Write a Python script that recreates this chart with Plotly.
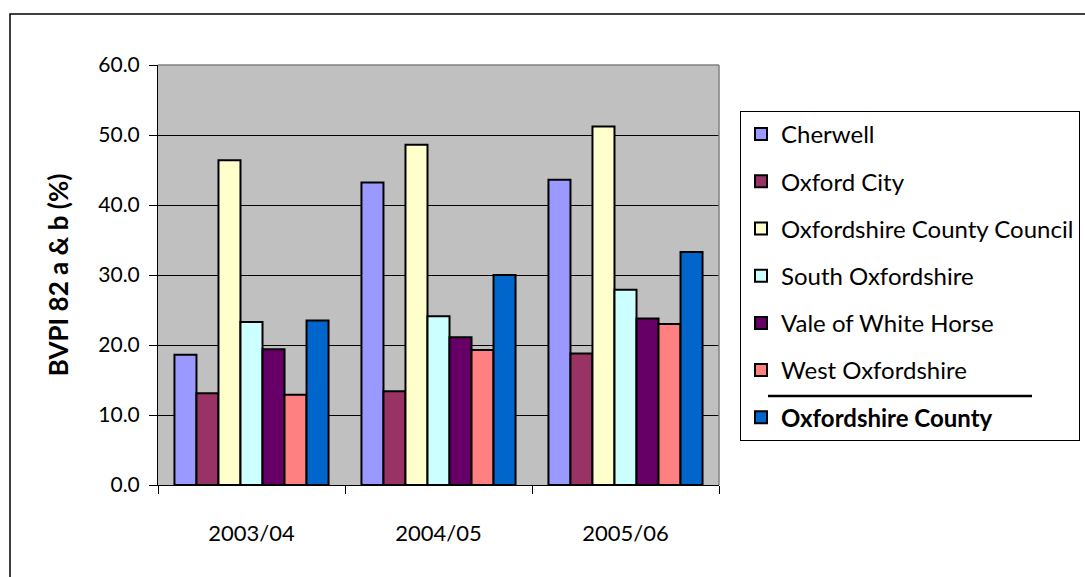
import plotly.graph_objects as go

years = ["2003/04", "2004/05", "2005/06"]
series_names = ["Cherwell", "Oxford City", "Oxfordshire County Council",
                "South Oxfordshire", "Vale of White Horse", "West Oxfordshire",
                "Oxfordshire County"]
cherwell = [18.6, 43.2, 43.6]
oxford_city = [13.1, 13.4, 18.8]
occ = [46.4, 48.6, 51.2]
south_oxon = [23.3, 24.1, 27.9]
vale = [19.4, 21.1, 23.8]
west_oxon = [12.9, 19.3, 23.0]
county = [23.5, 30.0, 33.3]
y_ticks = [0, 10, 20, 30, 40, 50, 60]

values = [cherwell, oxford_city, occ, south_oxon, vale, west_oxon, county]
colors = ["#9999FF", "#993366", "#FFFFCC", "#CCFFFF", "#660066", "#FF8080", "#0066CC"]

FONT = "Lato, 'Open Sans', sans-serif"

fig = go.Figure()
for i, (name, vals, col) in enumerate(zip(series_names, values, colors)):
    label = f"<b>{name}</b>" if name == "Oxfordshire County" else name
    fig.add_trace(go.Bar(
        x=years, y=vals, name=label, legendgroup=f"g{i}",
        marker=dict(color=col, line=dict(color="black", width=2)),
    ))

W, H = 1085, 577
L, R, T, B = 158, 366, 65, 92
pw, ph = W - L - R, H - T - B

def px(x):
    return (x - L) / pw

def py(y):
    return (H - B - y) / ph

fig.update_layout(
    width=W, height=H,
    margin=dict(l=L, r=R, t=T, b=B, autoexpand=False),
    paper_bgcolor="white", plot_bgcolor="#C0C0C0",
    barmode="group", bargap=0.176, bargroupgap=0,
    font=dict(family=FONT, size=21, color="black"),
    legend=dict(
        x=px(740), y=py(111), xanchor="left", yanchor="top",
        bordercolor="black", borderwidth=1, bgcolor="rgba(0,0,0,0)",
        font=dict(family=FONT, size=24, color="black"),
        tracegroupgap=13, itemwidth=30,
    ),
    xaxis=dict(
        showline=True, linecolor="black", linewidth=1,
        ticks="outside", ticklen=8, tickcolor="black", tickson="boundaries",
        tickfont=dict(size=22), showgrid=False, ticklabelstandoff=29,
    ),
    yaxis=dict(
        range=[0, 60], tickvals=y_ticks, tickformat=".1f",
        showline=True, linecolor="black", linewidth=1,
        ticks="outside", ticklen=8, tickcolor="black",
        gridcolor="black", gridwidth=1, tickfont=dict(size=21),
        ticklabelstandoff=5,
        title=dict(text="<b>BVPI 82 a & b (%)</b>", font=dict(size=26), standoff=22),
        zeroline=False,
    ),
    shapes=[
        # outer chart border
        dict(type="rect", xref="paper", yref="paper",
             x0=px(10), x1=px(1200), y0=py(700), y1=py(14),
             line=dict(color="black", width=1.5)),
        # plot area top/right border (grey)
        dict(type="line", xref="paper", yref="paper", x0=0, x1=1, y0=1, y1=1,
             line=dict(color="#808080", width=1.5)),
        dict(type="line", xref="paper", yref="paper", x0=1, x1=1, y0=0, y1=1,
             line=dict(color="#808080", width=1.5)),
        # separator line in legend
        dict(type="line", xref="paper", yref="paper",
             x0=px(768), x1=px(1032), y0=py(396), y1=py(396),
             line=dict(color="black", width=2.5)),
    ],
)

fig.write_html("out.html", config={"displayModeBar": False},
               post_script="document.body.style.margin='0';")
